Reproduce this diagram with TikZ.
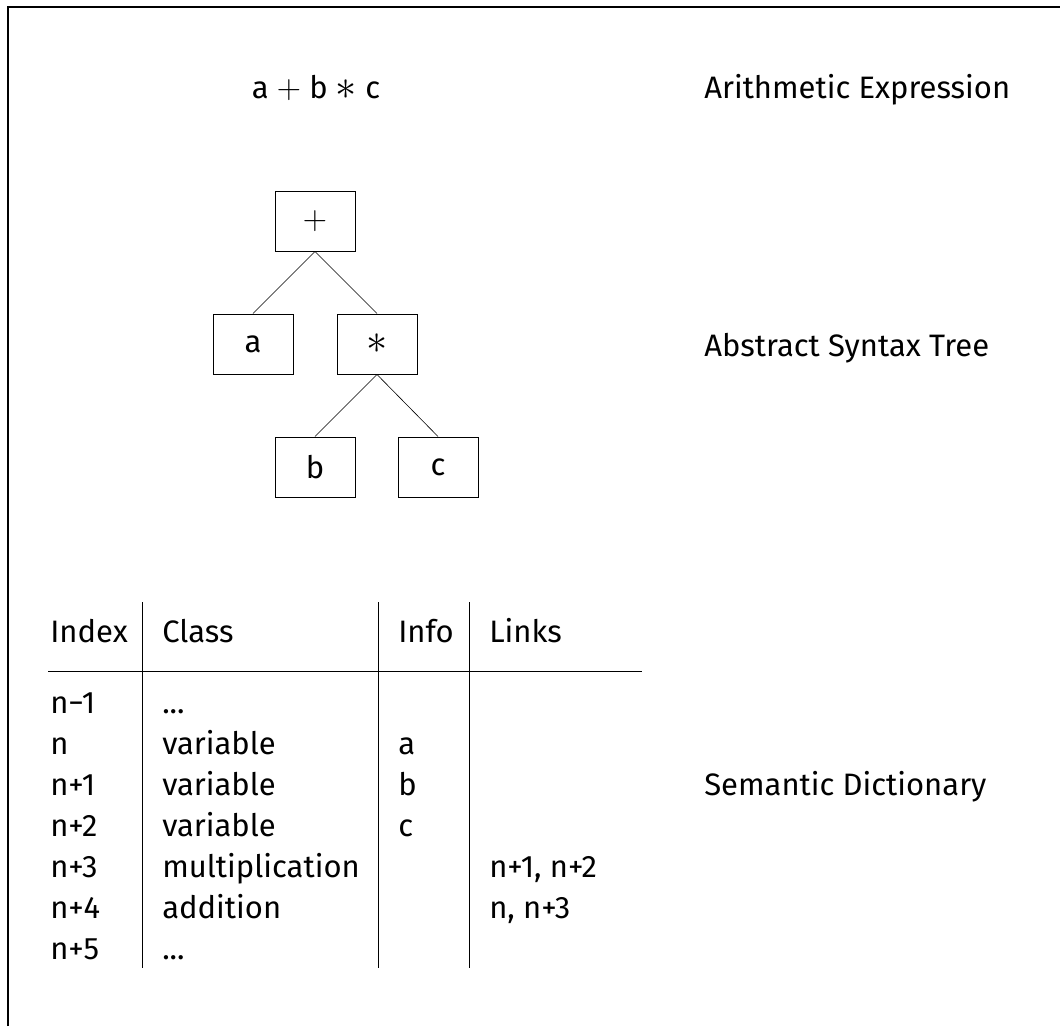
\documentclass[tikz,border=0pt]{standalone}
\usepackage{amsmath, amssymb, fontspec}
\setmainfont{Fira Sans}
\newcommand{\bigast}{\raisebox{-0.05em}{\scalebox{1.7}{$\ast$}}}
\newcommand{\bigplus}{\scalebox{1.35}{$+$}}

\begin{document}
\begin{tikzpicture}
            [x=1pt, y=-1pt, semithick,
             every node/.style={font=\fontsize{31}{37}\selectfont, inner sep=0pt},
             treebox/.style={shape=rectangle, draw=black, line width=1pt, minimum width=80pt, minimum height=60pt},
             txt/.style={anchor=base west}]
            \useasboundingbox (0, 0) rectangle (1060, 1026);
            \draw[line width=1.5pt] (8, 1026) -- (8, 7) -- (1060, 7);

            \node[anchor=base] (expr) at (316, 98) {a \bigplus{} b \bigast{} c};
            \node[txt] (exprlabel) at (704, 98) {Arithmetic Expression};

            \node[treebox] (plus) at (315, 221) {\bigplus};
            \node[treebox] (a) at (253, 344) {a};
            \node[treebox] (times) at (377, 344) {\bigast};
            \node[treebox] (b) at (315, 467) {b};
            \node[treebox] (c) at (438, 467) {c};
            \node[txt] (treelabel) at (704, 356) {Abstract Syntax Tree};

            \draw (plus.south) -- (a.north);
            \draw (plus.south) -- (times.north);
            \draw (times.south) -- (b.north);
            \draw (times.south) -- (c.north);

            \draw (142, 602) -- (142, 968);
            \draw (378, 602) -- (378, 968);
            \draw (469, 602) -- (469, 968);
            \draw (48, 671) -- (642, 671);

            \node[txt] (hindex) at (50, 642) {Index};
            \node[txt] (hclass) at (162, 642) {Class};
            \node[txt] (hinfo) at (398, 642) {Info};
            \node[txt] (hlinks) at (489, 642) {Links};

            \node[txt] (i0) at (50, 713) {n−1};
            \node[txt] (c0) at (162, 713) {...};
            \node[txt] (i1) at (50, 754) {n};
            \node[txt] (c1) at (162, 754) {variable};
            \node[txt] (f1) at (398, 754) {a};
            \node[txt] (i2) at (50, 795) {n+1};
            \node[txt] (c2) at (162, 795) {variable};
            \node[txt] (f2) at (398, 795) {b};
            \node[txt] (i3) at (50, 836) {n+2};
            \node[txt] (c3) at (162, 836) {variable};
            \node[txt] (f3) at (398, 836) {c};
            \node[txt] (i4) at (50, 877) {n+3};
            \node[txt] (c4) at (162, 877) {multiplication};
            \node[txt] (l4) at (489, 877) {n+1, n+2};
            \node[txt] (i5) at (50, 918) {n+4};
            \node[txt] (c5) at (162, 918) {addition};
            \node[txt] (l5) at (489, 918) {n, n+3};
            \node[txt] (i6) at (50, 959) {n+5};
            \node[txt] (c6) at (162, 959) {...};
            \node[txt] (dictlabel) at (704, 795) {Semantic Dictionary};
        \end{tikzpicture}
\end{document}
